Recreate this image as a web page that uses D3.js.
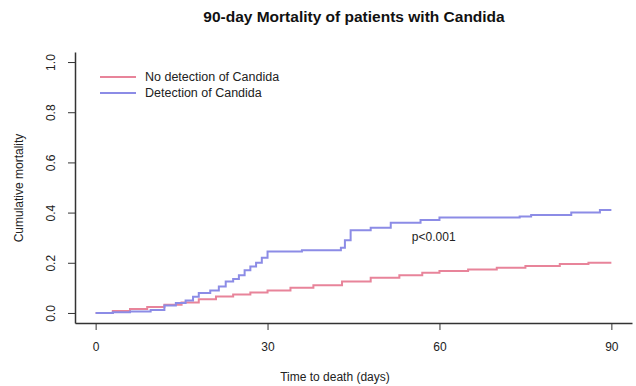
<!DOCTYPE html>
<html><head><meta charset="utf-8">
<script src="https://cdn.jsdelivr.net/npm/d3@7"></script>
<style>body{margin:0;background:#fff}svg{display:block;font-family:"Liberation Sans",Arial,sans-serif}</style>
</head><body><svg id="c" width="636" height="386"></svg>
<script>
const title = "90-day Mortality of patients with Candida";
const xLabel = "Time to death (days)";
const yLabel = "Cumulative mortality";
const xTicks = [0, 30, 60, 90];
const yTicks = [0, 0.2, 0.4, 0.6, 0.8, 1.0];
const seriesNames = ["No detection of Candida", "Detection of Candida"];
const seriesColors = ["#e8849a", "#8c8ce6"];
const noDetTime = [0, 3, 6, 9, 12, 15, 18, 21, 24, 27, 30, 34, 38, 43, 48, 53, 57, 60, 65, 70, 75, 81, 86, 90];
const noDetVal  = [0, 0.008, 0.016, 0.024, 0.033, 0.042, 0.055, 0.066, 0.074, 0.082, 0.09, 0.1, 0.11, 0.125, 0.14, 0.15, 0.16, 0.167, 0.173, 0.18, 0.187, 0.195, 0.2, 0.2];
const detTime = [0, 3, 6, 9.6, 12, 14, 15.7, 17, 18, 20, 21.5, 22.7, 24, 25, 26, 27, 28, 29, 30, 36, 42.8, 43.5, 44.5, 48, 51.5, 56.7, 60, 74, 76, 83, 88, 90];
const detVal  = [0, 0.003, 0.006, 0.012, 0.03, 0.04, 0.05, 0.065, 0.08, 0.09, 0.105, 0.125, 0.135, 0.15, 0.17, 0.185, 0.2, 0.22, 0.245, 0.25, 0.26, 0.29, 0.33, 0.34, 0.36, 0.37, 0.38, 0.384, 0.39, 0.40, 0.41, 0.41];
const pText = "p<0.001";

const svg = d3.select("#c");
const x = d3.scaleLinear().domain([-3.6, 93.6]).range([75, 632]);
const y = d3.scaleLinear().domain([-0.04, 1.04]).range([323, 52]);

const xa = svg.append("g").attr("transform", "translate(0,323)")
  .call(d3.axisBottom(x).tickValues(xTicks).tickSize(7).tickPadding(12).tickSizeOuter(0));
const ya = svg.append("g").attr("transform", "translate(75,0)")
  .call(d3.axisLeft(y).tickValues(yTicks).tickSize(7).tickFormat(d3.format(".1f")).tickSizeOuter(0));
[xa, ya].forEach(a => {
  a.selectAll("path").attr("stroke", "#333").attr("stroke-width", 1.5);
  a.selectAll("line").attr("stroke", "#333");
  a.selectAll("text").attr("font-size", 12).attr("fill", "#222").attr("font-family", "Liberation Sans, Arial, sans-serif");
});
ya.selectAll(".tick text").attr("text-anchor", "middle").attr("x", null).attr("dy", null)
  .attr("transform", "translate(-20,0) rotate(-90)");

const line = d3.line().curve(d3.curveStepAfter).x(d => x(d[0])).y(d => y(d[1]));
const series = [d3.zip(noDetTime, noDetVal), d3.zip(detTime, detVal)];
series.forEach((s, i) => {
  svg.append("path").datum(s).attr("d", line).attr("fill", "none")
    .attr("stroke", seriesColors[i]).attr("stroke-width", 2);
});

seriesNames.forEach((n, i) => {
  const ly = 77 + i * 16;
  svg.append("line").attr("x1", 100).attr("x2", 136).attr("y1", ly).attr("y2", ly)
    .attr("stroke", seriesColors[i]).attr("stroke-width", 2);
  svg.append("text").attr("x", 145).attr("y", ly + 4).attr("font-size", 12.5).attr("fill", "#222").text(n);
});

svg.append("text").attr("x", x(59)).attr("y", y(0.285)).attr("text-anchor", "middle")
  .attr("font-size", 12).attr("fill", "#222").text(pText);

svg.append("text").attr("x", 354).attr("y", 22).attr("text-anchor", "middle")
  .attr("font-size", 15.5).attr("font-weight", "bold").attr("fill", "#111").text(title);
svg.append("text").attr("x", 335).attr("y", 381).attr("text-anchor", "middle")
  .attr("font-size", 12).attr("fill", "#222").text(xLabel);
svg.append("text").attr("transform", "translate(23,188) rotate(-90)").attr("text-anchor", "middle")
  .attr("font-size", 12).attr("fill", "#222").text(yLabel);
</script></body></html>
